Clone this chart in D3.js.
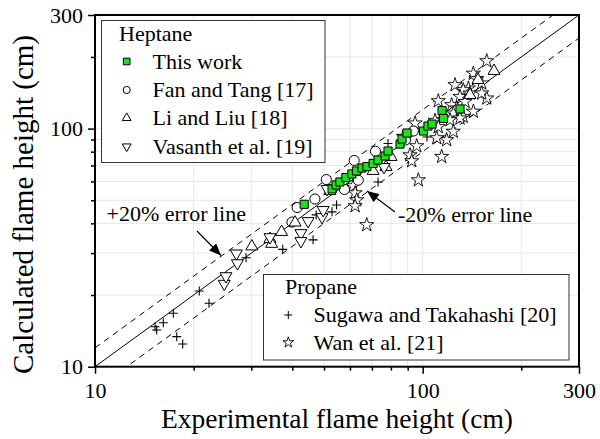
<!DOCTYPE html>
<html><head><meta charset="utf-8">
<script src="https://cdn.jsdelivr.net/npm/d3@7"></script>
<style>body{margin:0;background:#fff}svg{display:block}</style>
</head><body><svg id="c" width="600" height="439" font-family="'Liberation Serif', 'Times New Roman', serif"></svg>
<script>
const FONT = "'Liberation Serif', 'Times New Roman', serif";
// ---- data (experimental, calculated) in cm ----
const thisWorkX = [43.5,52.9,54.4,55.9,58.3,60.8,62.8,65.3,67.6,70.6,73.1,76.8,78.4,85.3,86.5,89.6,100.6,103.8,106.8,114.6,115.8,130];
const thisWorkY = [48.1,55.8,58.0,59.7,62.3,64.5,66.4,68.3,69.3,71.4,73.8,76.7,80.5,86.1,90.4,95.8,97.7,102.5,104.5,119.1,110.3,120.9];
const fanX = [39.9,41.4,46.9,50.8,57.7,61.8,63.6,71.8,88.6,93.7];
const fanY = [40.5,46.6,50.6,61.1,55.5,73.5,60.7,80.3,89.6,97.7];
const liX = [30.1,34.2,34.6,37.1,40.8,52.1,70.6,77.3,80.1,139.5,147.5,165.1];
const liY = [32.0,34.4,32.8,36.8,40.3,54.7,66.4,69.0,76.0,138.4,160,174.6];
const vasX = [24.8,25.1,27.0,27.2,34.2,42.5,42.5,44.7,49.3,49.7,51.1,76.2];
const vasY = [22.3,24.0,29.9,27.2,35.0,36.4,33.7,40.9,42.5,45.5,55.8,69.0];
const sugX = [15.25,15.43,16.16,17.34,17.76,18.52,20.81,22.28,28.9,37.4,46.3,47.3,52.9,54.6,73.1,78.4,103.1];
const sugY = [14.72,14.26,15.30,16.76,13.37,12.45,20.80,18.46,28.7,31.1,34.1,43.4,44.7,47.8,59.7,86.6,92.2];
const wanX = [156.9,142.8,146.2,125.5,151.4,137.9,133.0,139.5,156.9,111.6,130.0,134.7,122.6,127.0,142.8,133.0,124.0,130.0,121.2,109.1,94.8,111.6,124.0,118.4,110.4,87.3,95.9,91.5,92.6,114.3,97.0,61.4,62.2,62.9,62.2,67.5,151.4];
const wanY = [192.2,170.4,161.6,152.5,155.0,147.7,145.3,140.7,134.1,130.6,136.1,129.7,125.7,121.7,118.0,112.2,115.9,110.5,108.7,108.0,105.3,101.6,97.2,89.6,91.3,92.5,84.5,77.4,73.1,76.2,60.8,57.4,53.6,50.1,47.3,39.4,140.7];
const tickValues = [10,20,30,40,50,60,70,80,90,100,200,300];
const tickLabels = ["10","100","300"];
const heptaneLegend = ["This work","Fan and Tang [17]","Li and Liu [18]","Vasanth et al. [19]"];
const propaneLegend = ["Sugawa and Takahashi [20]","Wan et al. [21]"];
const errorRatios = [1.2, 0.8];

const svg = d3.select("#c");
const L=95,R=579,T=15,B=366.7;
const x = d3.scaleLog().domain([10,300]).range([L,R]);
const y = d3.scaleLog().domain([10,300]).range([B,T]);

// grid
const grid = tickValues.filter(v=>v>10&&v<300);
svg.append("g").selectAll("line").data(grid).join("line")
  .attr("x1",d=>x(d)).attr("x2",d=>x(d)).attr("y1",T).attr("y2",B)
  .attr("stroke","#e8e8e8").attr("stroke-width",1);
svg.append("g").selectAll("line").data(grid).join("line")
  .attr("y1",d=>y(d)).attr("y2",d=>y(d)).attr("x1",L).attr("x2",R)
  .attr("stroke","#e8e8e8").attr("stroke-width",1);

// axes
const isMajor = d=>tickLabels.includes(String(d));
const xAxis = d3.axisBottom(x).tickValues(tickValues).tickFormat(d=>isMajor(d)?String(d):"").tickSizeOuter(0);
const yAxis = d3.axisLeft(y).tickValues(tickValues).tickFormat(d=>isMajor(d)?String(d):"").tickSizeOuter(0);
const gx = svg.append("g").attr("transform",`translate(0,${B})`).call(xAxis);
const gy = svg.append("g").attr("transform",`translate(${L},0)`).call(yAxis);
[gx,gy].forEach(g=>{
  g.attr("font-family",FONT).attr("font-size",22);
  g.select(".domain").remove();
  g.selectAll(".tick line").attr("stroke","#000").attr("stroke-width",1.5);
  g.selectAll("text").attr("font-size",22).attr("font-family",FONT).attr("fill","#000");
});
gx.selectAll(".tick line").attr("y2",d=>isMajor(d)?7:4);
gy.selectAll(".tick line").attr("x2",d=>isMajor(d)?-7:-4);
gx.selectAll(".tick text").attr("dy","0.71em").attr("y",16);
gy.selectAll(".tick text").attr("x",-12);

// clip
svg.append("clipPath").attr("id","clip").append("rect").attr("x",L).attr("y",T).attr("width",R-L).attr("height",B-T);
const plot = svg.append("g").attr("clip-path","url(#clip)");

// lines
const lineDomain=[10,300];
plot.append("line").attr("x1",x(10)).attr("y1",y(10)).attr("x2",x(300)).attr("y2",y(300)).attr("stroke","#000").attr("stroke-width",1);
errorRatios.forEach(r=>{
  plot.append("line").attr("x1",x(lineDomain[0])).attr("y1",y(lineDomain[0]*r)).attr("x2",x(lineDomain[1])).attr("y2",y(lineDomain[1]*r))
    .attr("stroke","#000").attr("stroke-width",1).attr("stroke-dasharray","6,5");
});

// symbols
const sym = {
  square:(s)=>d3.symbol(d3.symbolSquare,s)(),
  circle:(s)=>d3.symbol(d3.symbolCircle,s)(),
  tri:(s)=>d3.symbol(d3.symbolTriangle,s)(),
  star:(s)=>d3.symbol(d3.symbolStar,s)(),
  cross:(h)=>`M${-h},0H${h}M0,${-h}V${h}`
};
function pts(xs,ys,path,opts,rot){
  plot.append("g").selectAll("path").data(xs.map((v,i)=>[v,ys[i]])).join("path")
    .attr("d",path).attr("transform",d=>`translate(${x(d[0])},${y(d[1])})${rot?" rotate(180)":""}`)
    .attr("fill",opts.fill).attr("stroke","#000").attr("stroke-width",opts.sw||1);
}
pts(wanX,wanY,sym.star(62),{fill:"#fff",sw:0.9});
pts(sugX,sugY,sym.cross(4.5),{fill:"none",sw:1.1});
pts(fanX,fanY,sym.circle(80),{fill:"#fff"});
pts(liX,liY,sym.tri(62),{fill:"#fff"});
pts(vasX,vasY,sym.tri(62),{fill:"#fff"},true);
pts(thisWorkX,thisWorkY,sym.square(66),{fill:"#1ee01e"});

// frame
svg.append("rect").attr("x",L).attr("y",T).attr("width",R-L).attr("height",B-T).attr("fill","none").attr("stroke","#000").attr("stroke-width",2);

function txt(g,xx,yy,size,s){return g.append("text").attr("x",xx).attr("y",yy).attr("font-size",size).attr("font-family",FONT).attr("fill","#000").text(s);}

// legends
const lg1 = svg.append("g");
lg1.append("rect").attr("x",101.5).attr("y",20.5).attr("width",223.5).attr("height",142).attr("fill","#fff").attr("stroke","#333").attr("stroke-width",1);
txt(lg1,119,40.5,22,"Heptane");
const l1sym=[[sym.square(44),"#1ee01e",false],[sym.circle(40),"#fff",false],[sym.tri(34),"#fff",false],[sym.tri(34),"#fff",true]];
const l1y=[61.5,90,118,146.5];
heptaneLegend.forEach((t,i)=>{
  lg1.append("path").attr("d",l1sym[i][0]).attr("transform",`translate(126.7,${l1y[i]})${l1sym[i][2]?" rotate(180)":""}`).attr("fill",l1sym[i][1]).attr("stroke","#000").attr("stroke-width",1);
  txt(lg1,152.5,l1y[i]+7,22,t);
});
const lg2 = svg.append("g");
lg2.append("rect").attr("x",263.5).attr("y",274.5).attr("width",305.5).attr("height",85.5).attr("fill","#fff").attr("stroke","#333").attr("stroke-width",1);
txt(lg2,285,293.5,22,"Propane");
const l2y=[315,342.5];
lg2.append("path").attr("d",sym.cross(4)).attr("transform",`translate(288.3,${l2y[0]})`).attr("fill","none").attr("stroke","#000");
lg2.append("path").attr("d",sym.star(36)).attr("transform",`translate(288.3,${l2y[1]})`).attr("fill","#fff").attr("stroke","#000").attr("stroke-width",0.9);
propaneLegend.forEach((t,i)=>{ txt(lg2,313.5,l2y[i]+7,22,t); });

// annotations
svg.append("defs").append("marker").attr("id","ah").attr("viewBox","0 0 12 10").attr("refX",12).attr("refY",5)
  .attr("markerWidth",12).attr("markerHeight",10).attr("markerUnits","userSpaceOnUse").attr("orient","auto")
  .append("path").attr("d","M0,0L12,5L0,10Z").attr("fill","#000");
txt(svg,106.5,221,22,"+20% error line");
svg.append("line").attr("x1",197).attr("y1",231).attr("x2",221).attr("y2",255.5).attr("stroke","#000").attr("stroke-width",1.2).attr("marker-end","url(#ah)");
txt(svg,398,222,22,"-20% error line");
svg.append("line").attr("x1",395).attr("y1",212).attr("x2",367).attr("y2",191).attr("stroke","#000").attr("stroke-width",1.2).attr("marker-end","url(#ah)");

// axis titles
txt(svg,(L+R)/2,428,27.5,"Experimental flame height (cm)").attr("text-anchor","middle");
svg.append("text").attr("transform",`translate(33,204.5) rotate(-90)`).attr("text-anchor","middle").attr("font-size",29).attr("font-family",FONT).attr("fill","#000").text("Calculated flame height (cm)");
</script></body></html>
